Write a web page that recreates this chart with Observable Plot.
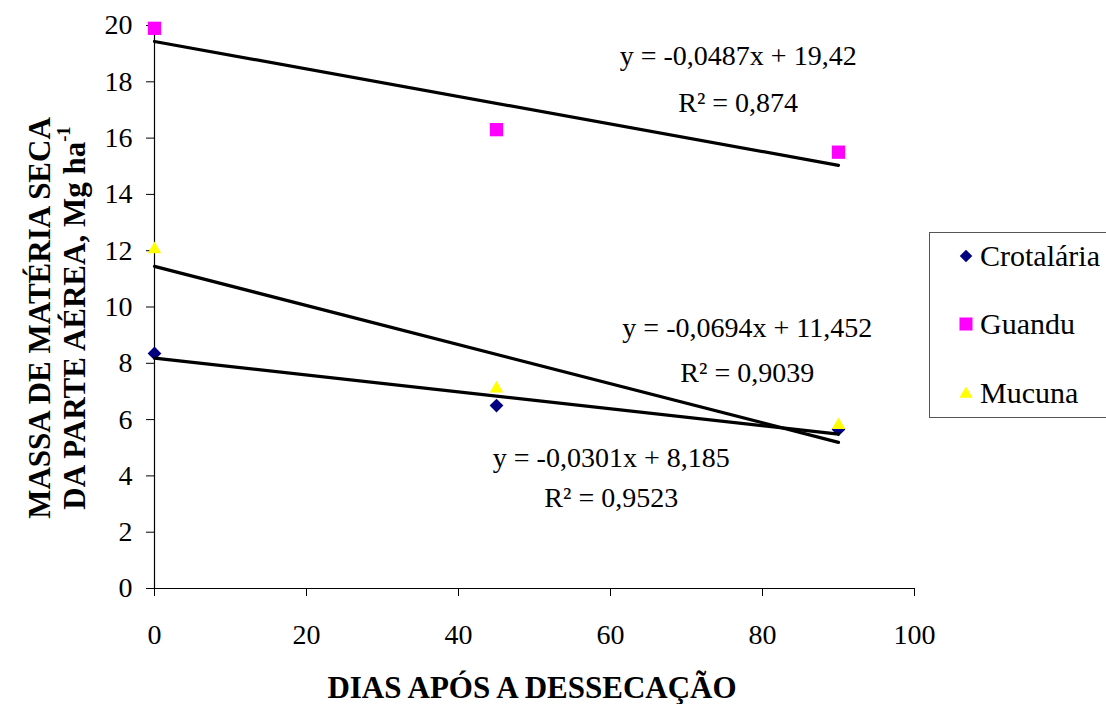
<!DOCTYPE html>
<html><head><meta charset="utf-8">
<script src="https://cdn.jsdelivr.net/npm/d3@7"></script>
<script src="https://cdn.jsdelivr.net/npm/@observablehq/plot@0.6"></script>
<style>
body{margin:0;background:#fff;}
#wrap{position:relative;width:1106px;height:704px;overflow:hidden;font-family:"Liberation Serif","Times New Roman",Times,serif;color:#000;}
#chart{position:absolute;left:0;top:0;}
.ytitle{position:absolute;font-weight:bold;font-size:31px;line-height:1;white-space:nowrap;transform:translate(-50%,-50%) rotate(-90deg);}
.xtitle{position:absolute;font-weight:bold;font-size:31px;line-height:1;white-space:nowrap;transform:translate(-50%,-50%);}
#legend{position:absolute;left:929px;top:232px;width:200px;height:186px;border:1px solid #555;box-sizing:border-box;}
.item{position:absolute;left:29px;font-size:30px;line-height:1;transform:translateY(-50%);display:flex;align-items:center;}
.sw{display:inline-block;margin-right:7px;}
</style></head><body><div id="wrap"><div id="chart"></div></div>
<script>
// ---- data ----
const days = [0, 45, 90];
const crotalaria = [8.35, 6.5, 5.65];
const guandu = [19.9, 16.3, 15.5];
const mucuna = [12.05, 7.1, 5.8];
const seriesNames = ["Crotalária", "Guandu", "Mucuna"];
const seriesColors = ["#000080", "#FF00FF", "#FFFF00"];
const seriesSymbols = ["diamond2", "square", "triangle"];
const xTicks = [0, 20, 40, 60, 80, 100];
const yTicks = [0, 2, 4, 6, 8, 10, 12, 14, 16, 18, 20];
const eqLines = ["y = -0,0301x + 8,185", "y = -0,0487x + 19,42", "y = -0,0694x + 11,452"];
const r2Lines = ["R² = 0,9523", "R² = 0,874", "R² = 0,9039"];
// label anchors in data units (days, Mg/ha)
const eqAnchorX = [60.1, 76.8, 78.0];
const eqAnchorY = [4.65, 18.93, 9.27];
const r2AnchorY = [3.2, 17.26, 7.67];

const serif = "'Liberation Serif','Times New Roman',Times,serif";
const seriesValues = [crotalaria, guandu, mucuna];
const rows = seriesNames.flatMap((s, i) => days.map((d, j) => ({series: s, x: d, y: seriesValues[i][j]})));
const labels = seriesNames.flatMap((s, i) => [
  {x: eqAnchorX[i], y: eqAnchorY[i], t: eqLines[i]},
  {x: eqAnchorX[i], y: r2AnchorY[i], t: r2Lines[i]}
]);
const sizes = {"Crotalária": 6.2, "Guandu": 7.5, "Mucuna": 5};

const plot = Plot.plot({
  width: 1106, height: 704,
  marginLeft: 154, marginRight: 192, marginTop: 25, marginBottom: 116,
  style: {fontFamily: serif, fontSize: "28px", color: "#000", background: "#fff"},
  x: {domain: [0, 100]},
  y: {domain: [0, 20]},
  marks: [
    Plot.ruleY([0], {stroke: "#000", strokeWidth: 1.2}),
    Plot.ruleX([0], {stroke: "#000", strokeWidth: 1.2}),
    Plot.axisX({ticks: xTicks, tickSize: 8, tickPadding: 28, label: null, fontSize: 28, fontFamily: serif}),
    Plot.axisY({ticks: yTicks, tickSize: 8, tickPadding: 14, label: null, fontSize: 28, fontFamily: serif}),
    ...seriesNames.map((s, i) => Plot.dot(rows.filter(d => d.series === s), {
      x: "x", y: "y", symbol: () => seriesSymbols[i], fill: seriesColors[i], stroke: "none", r: sizes[s]
    })),
    ...seriesNames.map(s => Plot.linearRegressionY(rows.filter(d => d.series === s), {
      x: "x", y: "y", ci: 0, stroke: "#000", strokeWidth: 3.2
    })),
    Plot.text(labels, {x: "x", y: "y", text: "t", fontSize: 28, fill: "#000", fontFamily: serif})
  ]
});
document.getElementById("chart").appendChild(plot);

const wrap = document.getElementById("wrap");
function addDiv(cls, html, left, top) {
  const d = document.createElement("div");
  d.className = cls; d.innerHTML = html;
  d.style.left = left + "px"; d.style.top = top + "px";
  wrap.appendChild(d); return d;
}
addDiv("ytitle", "MASSA DE MATÉRIA SECA", 39, 318);
addDiv("ytitle", "DA PARTE AÉREA, Mg ha<sup style='font-size:0.6em;position:relative;top:-0.2em;vertical-align:top'>-1</sup>", 74, 318);
addDiv("xtitle", "DIAS APÓS A DESSECAÇÃO", 532, 687);

const legend = document.createElement("div");
legend.id = "legend";
wrap.appendChild(legend);
const itemTops = [23, 91, 160];
const swatchHTML = [
  `<svg class="sw" width="14" height="14"><path d="${d3.symbol(d3.symbolDiamond2, 100)()}" transform="translate(7,7)" fill="${seriesColors[0]}"/></svg>`,
  `<svg class="sw" width="14" height="14"><path d="${d3.symbol(d3.symbolSquare, 170)()}" transform="translate(7,7)" fill="${seriesColors[1]}"/></svg>`,
  `<svg class="sw" width="14" height="14"><path d="${d3.symbol(d3.symbolTriangle, 75)()}" transform="translate(7,8)" fill="${seriesColors[2]}"/></svg>`
];
seriesNames.forEach((s, i) => {
  const it = document.createElement("div");
  it.className = "item";
  it.style.top = itemTops[i] + "px";
  it.innerHTML = swatchHTML[i] + "<span>" + s + "</span>";
  legend.appendChild(it);
});
</script></body></html>
